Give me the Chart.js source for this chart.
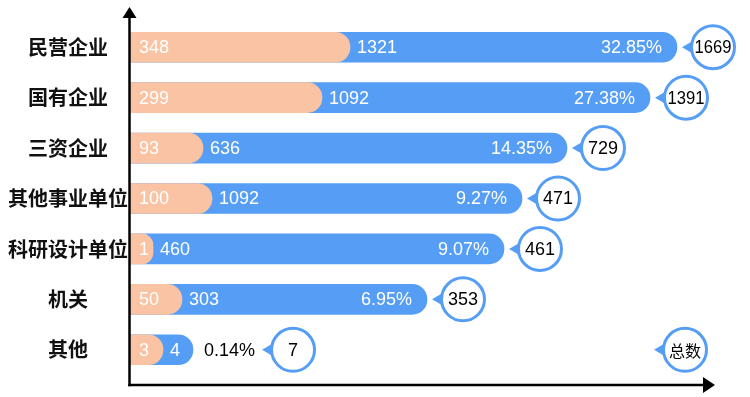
<!DOCTYPE html>
<html>
<head>
<meta charset="utf-8">
<script src="https://cdn.jsdelivr.net/npm/chart.js@4"></script>
<style>
  html, body { margin: 0; padding: 0; background: #fff; }
  #wrap { width: 750px; height: 397px; position: relative; }
</style>
</head>
<body>
<div id="wrap"><canvas id="chart"></canvas></div>
<script>
// ===== DATA =====
const categories = ['民营企业', '国有企业', '三资企业', '其他事业单位', '科研设计单位', '机关', '其他'];
const salmonCounts = [348, 299, 93, 100, 1, 50, 3];
const blueCounts = [1321, 1092, 636, 1092, 460, 303, 4];
const totals = [1669, 1391, 729, 471, 461, 353, 7];
const shares = ['32.85%', '27.38%', '14.35%', '9.27%', '9.07%', '6.95%', '0.14%'];
// bar lengths as drawn in the picture (not proportional to the counts)
const salmonLen = [220, 192, 73, 82, 23, 52, 33];
const barLen = [547, 520, 437, 392, 374, 297, 63];
const totalLabel = '总数';

const SALMON = '#F9C3A4';
const BLUE = '#569EF5';
const NUM_FONT = '"Liberation Sans", Arial, sans-serif';
const CJK_FONT = '"Noto Sans CJK SC", sans-serif';

function drawBubble(ctx, tip, y, text, font) {
    const r = 21.5;
    const cx = tip + 31;
    ctx.fillStyle = BLUE;
    ctx.beginPath();
    ctx.moveTo(tip, y);
    ctx.lineTo(tip + 12, y - 7);
    ctx.lineTo(tip + 12, y + 7);
    ctx.closePath();
    ctx.fill();
    ctx.beginPath();
    ctx.arc(cx, y, r, 0, Math.PI * 2);
    ctx.fillStyle = '#fff';
    ctx.fill();
    ctx.lineWidth = 3;
    ctx.strokeStyle = BLUE;
    ctx.stroke();
    ctx.fillStyle = '#000';
    ctx.font = font;
    ctx.textAlign = 'center';
    ctx.textBaseline = 'middle';
    // squeeze long numbers so they fit inside the circle
    ctx.fillText(text, cx, y + 1, 37);
}

const labelPlugin = {
    id: 'barLabels',
    afterDatasetsDraw(chart) {
        const ctx = chart.ctx;
        const front = chart.getDatasetMeta(0).data;
        const back = chart.getDatasetMeta(1).data;
        const left = chart.chartArea.left;
        ctx.save();
        categories.forEach((c, i) => {
            const y = back[i].y;
            const sEnd = front[i].x, bEnd = back[i].x;
            ctx.font = '18px ' + NUM_FONT;
            ctx.textBaseline = 'middle';
            ctx.fillStyle = '#fff';
            ctx.textAlign = 'left';
            ctx.fillText(salmonCounts[i], left + 9, y + 1);
            ctx.fillText(blueCounts[i], sEnd + 7, y + 1);
            const w = ctx.measureText(shares[i]).width;
            const used = ctx.measureText(String(blueCounts[i])).width + 7;
            let tip;
            if (bEnd - sEnd - used > w + 30) {
                ctx.textAlign = 'right';
                ctx.fillText(shares[i], bEnd - 15, y + 1);
                tip = bEnd + 5;
            } else {
                ctx.fillStyle = '#000';
                ctx.fillText(shares[i], bEnd + 11, y + 1);
                tip = bEnd + 11 + w + 7;
            }
            drawBubble(ctx, tip, y, totals[i], '18px ' + NUM_FONT);
        });
        // "总数" key bubble at the right of the last row
        const lastY = back[back.length - 1].y;
        drawBubble(ctx, chart.chartArea.right - 60, lastY, totalLabel, '16px ' + CJK_FONT);
        ctx.restore();
    }
};

const arrowAxes = {
    id: 'arrowAxes',
    afterDraw(chart) {
        const { left, top, bottom, right } = chart.chartArea;
        const ctx = chart.ctx;
        const x0 = left - 0.5, y0 = bottom + 10;
        ctx.save();
        ctx.strokeStyle = '#000';
        ctx.fillStyle = '#000';
        ctx.lineWidth = 2.5;
        ctx.beginPath(); ctx.moveTo(x0, y0 + 1.2); ctx.lineTo(x0, top - 6); ctx.stroke();
        ctx.beginPath(); ctx.moveTo(x0 - 1.2, y0); ctx.lineTo(right - 6, y0); ctx.stroke();
        ctx.beginPath(); ctx.moveTo(x0, top - 15); ctx.lineTo(x0 - 7, top - 4); ctx.lineTo(x0 + 7, top - 4); ctx.fill();
        ctx.beginPath(); ctx.moveTo(right + 1, y0); ctx.lineTo(right - 11, y0 - 8); ctx.lineTo(right - 11, y0 + 8); ctx.fill();
        ctx.restore();
    }
};

new Chart(document.getElementById('chart'), {
    type: 'bar',
    data: {
        labels: categories,
        datasets: [
            { data: salmonLen, backgroundColor: SALMON, grouped: false, barThickness: 30, borderRadius: 15, borderSkipped: 'start' },
            { data: barLen, backgroundColor: BLUE, grouped: false, barThickness: 30, borderRadius: 15, borderSkipped: 'start' }
        ]
    },
    options: {
        indexAxis: 'y',
        responsive: true,
        maintainAspectRatio: false,
        animation: false,
        layout: { padding: { top: 22, bottom: 22, right: 36, left: 0 } },
        plugins: { legend: { display: false }, tooltip: { enabled: false } },
        scales: {
            x: { display: false, min: 0, max: 584 },
            y: {
                afterFit: s => { s.width = 130; },
                grid: { display: false, drawTicks: false },
                border: { display: false },
                ticks: { color: '#111', crossAlign: 'center', padding: 2, font: { family: CJK_FONT, size: 20, weight: 'bold' } }
            }
        }
    },
    plugins: [labelPlugin, arrowAxes]
});
</script>
</body>
</html>
